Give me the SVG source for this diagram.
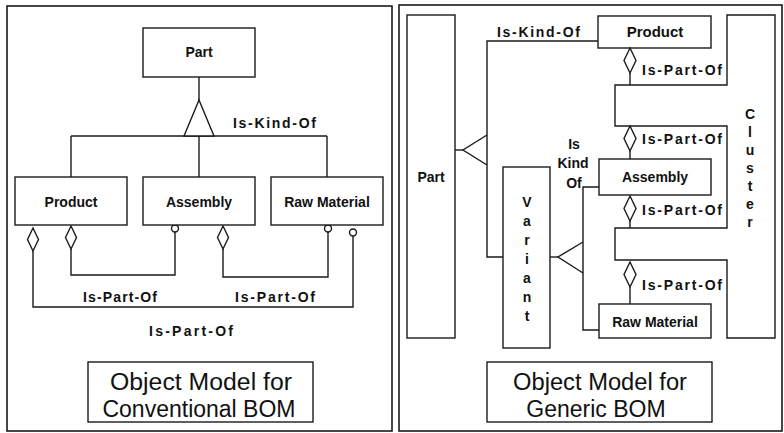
<svg xmlns="http://www.w3.org/2000/svg" width="784" height="433" viewBox="0 0 784 433">
<style>
.bg{fill:#ffffff}
.box{fill:#ffffff;stroke:#1a1a1a;stroke-width:1.4}
.panel{fill:none;stroke:#1a1a1a;stroke-width:1.6}
.ln{fill:none;stroke:#1a1a1a;stroke-width:1.4}
.hollow{fill:#ffffff;stroke:#1a1a1a;stroke-width:1.4}
.lbl{font-family:"Liberation Sans",Arial,sans-serif;font-weight:bold;font-size:14px;fill:#111}
.mid{text-anchor:middle}
.cap{font-family:"Liberation Sans",Arial,sans-serif;font-size:23px;fill:#111;text-anchor:middle}
</style>
<defs>
<path id="dmdL" d="M0,0 L5.5,11.5 L0,23 L-5.5,11.5 Z"/>
<path id="dmdR" d="M0,0 L6,12.5 L0,25 L-6,12.5 Z"/>
</defs>
<rect class="bg" x="0" y="0" width="784" height="433"/>

<!-- panels -->
<g id="panel-left"><rect class="panel" x="7" y="6" width="385" height="425"/></g>
<g id="panel-right"><rect class="panel" x="399" y="5" width="383" height="426"/></g>

<!-- ===== Left: connectors ===== -->
<g id="connectors-left">
  <line class="ln" x1="199" y1="77" x2="199" y2="100"/>
  <line class="ln" x1="71" y1="136" x2="327" y2="136"/>
  <line class="ln" x1="71" y1="136" x2="71" y2="177"/>
  <line class="ln" x1="199" y1="136" x2="199" y2="177"/>
  <line class="ln" x1="327" y1="136" x2="327" y2="177"/>
  <polygon class="hollow" points="199,100 184,136 214,136"/>
  <!-- part-of loops -->
  <polyline class="ln" points="71,249 71,275 175,275 175,232"/>
  <polyline class="ln" points="223,249 223,277 328,277 328,232"/>
  <polyline class="ln" points="33,251 33,307 353,307 353,236"/>
  <use href="#dmdL" class="hollow" x="33" y="228"/>
  <use href="#dmdL" class="hollow" x="71" y="226"/>
  <use href="#dmdL" class="hollow" x="223" y="226"/>
  <circle class="hollow" cx="175" cy="228.5" r="3.5"/>
  <circle class="hollow" cx="328" cy="228.5" r="3.5"/>
  <circle class="hollow" cx="353" cy="232.5" r="3.5"/>
  <text class="lbl" x="233" y="128" textLength="83" lengthAdjust="spacing">Is-Kind-Of</text>
  <text class="lbl" x="83" y="302" textLength="74" lengthAdjust="spacing">Is-Part-Of</text>
  <text class="lbl" x="235" y="302" textLength="80" lengthAdjust="spacing">Is-Part-Of</text>
  <text class="lbl" x="149" y="336" textLength="84" lengthAdjust="spacing">Is-Part-Of</text>
</g>

<!-- ===== Left: nodes ===== -->
<g id="l-part"><rect class="box" x="143" y="28" width="112" height="49"/><text class="lbl mid" x="199" y="57">Part</text></g>
<g id="l-product"><rect class="box" x="15" y="177" width="112" height="48"/><text class="lbl mid" x="71" y="207">Product</text></g>
<g id="l-assembly"><rect class="box" x="143" y="177" width="112" height="48"/><text class="lbl mid" x="199" y="207">Assembly</text></g>
<g id="l-raw"><rect class="box" x="271" y="177" width="112" height="48"/><text class="lbl mid" x="327" y="207">Raw Material</text></g>
<g id="l-caption"><rect class="box" x="88" y="362" width="225" height="60"/>
  <text class="cap" x="201" y="390" textLength="182" lengthAdjust="spacingAndGlyphs">Object Model for</text>
  <text class="cap" x="199" y="417">Conventional BOM</text></g>

<!-- ===== Right: nodes ===== -->
<g id="r-part"><rect class="box" x="407" y="15" width="48" height="323"/><text class="lbl mid" x="431" y="182">Part</text></g>
<g id="r-cluster"><path class="box" d="M727,15 H775 V338 H727 V260 H615 V228 H727 V126 H615 V85 H727 Z"/>
  <text class="lbl mid" x="750" y="119">C</text>
  <text class="lbl mid" x="750" y="137">l</text>
  <text class="lbl mid" x="750" y="155">u</text>
  <text class="lbl mid" x="750" y="173">s</text>
  <text class="lbl mid" x="750" y="191">t</text>
  <text class="lbl mid" x="750" y="209">e</text>
  <text class="lbl mid" x="750" y="227">r</text>
</g>
<g id="r-product"><rect class="box" x="598" y="16" width="113" height="32"/><text class="lbl mid" x="655" y="37" style="font-size:15px">Product</text></g>
<g id="r-assembly"><rect class="box" x="599" y="159" width="112" height="36"/><text class="lbl mid" x="655" y="182">Assembly</text></g>
<g id="r-raw"><rect class="box" x="599" y="304" width="112" height="34"/><text class="lbl mid" x="655" y="327">Raw Material</text></g>
<g id="r-variant"><rect class="box" x="503" y="167" width="47" height="181"/>
  <text class="lbl mid" x="527" y="207">V</text>
  <text class="lbl mid" x="527" y="226">a</text>
  <text class="lbl mid" x="527" y="245">r</text>
  <text class="lbl mid" x="527" y="264">i</text>
  <text class="lbl mid" x="527" y="283">a</text>
  <text class="lbl mid" x="527" y="302">n</text>
  <text class="lbl mid" x="527" y="321">t</text>
</g>
<g id="r-caption"><rect class="box" x="487" y="362" width="225" height="60"/>
  <text class="cap" x="600" y="390" textLength="174" lengthAdjust="spacingAndGlyphs">Object Model for</text>
  <text class="cap" x="596" y="417">Generic BOM</text></g>

<!-- ===== Right: connectors ===== -->
<g id="connectors-right">
  <!-- Part generalisation -->
  <line class="ln" x1="455" y1="150" x2="463" y2="150"/>
  <polyline class="ln" points="487,135 463,150 487,165"/>
  <polyline class="ln" points="598,41 487,41 487,257 503,257"/>
  <text class="lbl" x="497" y="37" textLength="83" lengthAdjust="spacing">Is-Kind-Of</text>
  <!-- Variant generalisation -->
  <line class="ln" x1="550" y1="257" x2="558" y2="257"/>
  <polyline class="ln" points="583,242 558,257 583,273"/>
  <polyline class="ln" points="599,187 583,187 583,330 599,330"/>
  <text class="lbl mid" x="574" y="149">Is</text>
  <text class="lbl mid" x="573" y="168">Kind</text>
  <text class="lbl mid" x="574" y="188">Of</text>
  <!-- part-of links -->
  <line class="ln" x1="630" y1="73" x2="630" y2="85"/>
  <use href="#dmdR" class="hollow" x="630" y="48"/>
  <text class="lbl" x="642" y="75" textLength="80" lengthAdjust="spacing">Is-Part-Of</text>
  <line class="ln" x1="630" y1="151" x2="630" y2="159"/>
  <use href="#dmdR" class="hollow" x="630" y="126"/>
  <text class="lbl" x="642" y="144" textLength="80" lengthAdjust="spacing">Is-Part-Of</text>
  <line class="ln" x1="630" y1="220" x2="630" y2="228"/>
  <use href="#dmdR" class="hollow" x="630" y="196"/>
  <text class="lbl" x="642" y="215" textLength="80" lengthAdjust="spacing">Is-Part-Of</text>
  <line class="ln" x1="630" y1="287" x2="630" y2="304"/>
  <use href="#dmdR" class="hollow" x="630" y="262"/>
  <text class="lbl" x="642" y="290" textLength="80" lengthAdjust="spacing">Is-Part-Of</text>
</g>
</svg>
